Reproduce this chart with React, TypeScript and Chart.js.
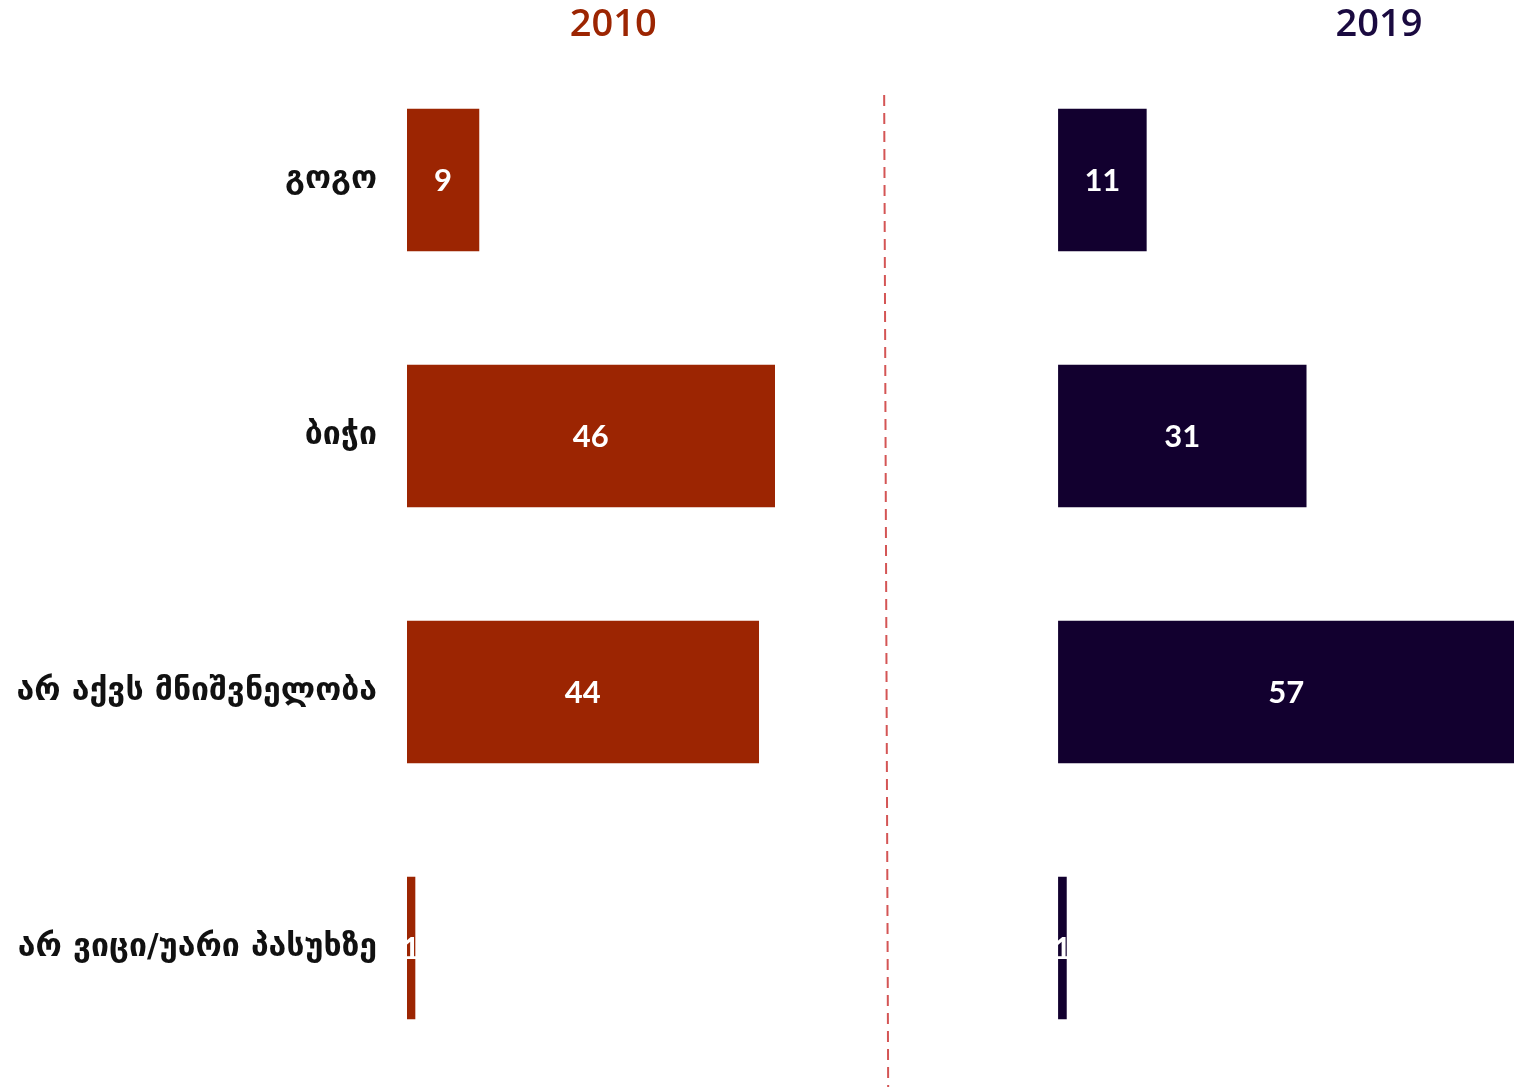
import React, { useEffect, useRef } from "react";
import { Chart, registerables } from "chart.js";

Chart.register(...registerables);

const categories = ["გოგო", "ბიჭი", "არ აქვს მნიშვნელობა", "არ ვიცი/უარი პასუხზე"];
const values2010 = [9, 46, 44, 1];
const values2019 = [11, 31, 57, 1];
const yearLabels = ["2010", "2019"];

const COLOR_2010 = "#9c2502";
const COLOR_2019 = "#12002f";

const overlayPlugin = {
  id: "overlay",
  afterDatasetsDraw(chart: any) {
    const ctx = chart.ctx;
    ctx.save();
    ctx.fillStyle = "#ffffff";
    ctx.font = "bold 31px Lato";
    ctx.textAlign = "center";
    ctx.textBaseline = "middle";
    chart.data.datasets.forEach((ds: any, di: number) => {
      const meta = chart.getDatasetMeta(di);
      meta.data.forEach((el: any, i: number) => {
        const cx = (el.x + el.base) / 2;
        ctx.fillText(String(ds.data[i]), cx, el.y + 1);
      });
    });
    ctx.restore();
  },
  afterDraw(chart: any) {
    const ctx = chart.ctx;
    const sx = chart.scales.x;
    const sx2 = chart.scales.x2;
    ctx.save();
    ctx.font = "600 38px 'Open Sans'";
    ctx.textAlign = "center";
    ctx.textBaseline = "middle";
    ctx.fillStyle = COLOR_2010;
    ctx.fillText(yearLabels[0], sx.getPixelForValue(25.8), 25);
    ctx.fillStyle = "#1a0a40";
    ctx.fillText(yearLabels[1], sx2.getPixelForValue(40.1), 25);
    const lx = sx.getPixelForValue(59.7);
    ctx.strokeStyle = "#d45555";
    ctx.lineWidth = 2;
    ctx.setLineDash([11, 7]);
    ctx.beginPath();
    ctx.moveTo(lx, 95);
    ctx.lineTo(lx + 4, chart.height);
    ctx.stroke();
    ctx.restore();
  },
};

export default function App() {
  const ref = useRef<HTMLCanvasElement | null>(null);
  useEffect(() => {
    if (!ref.current) return;
    const chart = new Chart(ref.current, {
      type: "bar",
      data: {
        labels: categories,
        datasets: [
          {
            label: yearLabels[0],
            data: values2010,
            xAxisID: "x",
            backgroundColor: COLOR_2010,
            barThickness: 142,
            grouped: false,
          } as any,
          {
            label: yearLabels[1],
            data: values2019,
            xAxisID: "x2",
            backgroundColor: COLOR_2019,
            barThickness: 142,
            grouped: false,
          } as any,
        ],
      },
      options: {
        indexAxis: "y",
        animation: false,
        responsive: true,
        maintainAspectRatio: false,
        layout: { padding: { top: 52, bottom: 11, left: 0, right: 0 } },
        plugins: {
          legend: { display: false },
          tooltip: { enabled: false },
          title: { display: false },
        },
        scales: {
          x: { type: "linear", min: 0, max: 138.5, display: false },
          x2: { type: "linear", min: -81.5, max: 57, display: false },
          y: {
            type: "category",
            grid: { display: false, drawTicks: false },
            border: { display: false },
            ticks: {
              padding: 30,
              color: "#111111",
              font: { family: "'DejaVu Sans'", size: 32, weight: "bold" },
            },
            afterFit(scale: any) {
              scale.width = 407;
              scale.paddingTop = 0;
              scale.paddingBottom = 0;
            },
          },
        },
      },
      plugins: [overlayPlugin],
    });
    return () => chart.destroy();
  }, []);
  return (
    <div style={{ position: "fixed", left: 0, top: 0, width: 1514, height: 1087, background: "#fff" }}>
      <canvas ref={ref} />
    </div>
  );
}
